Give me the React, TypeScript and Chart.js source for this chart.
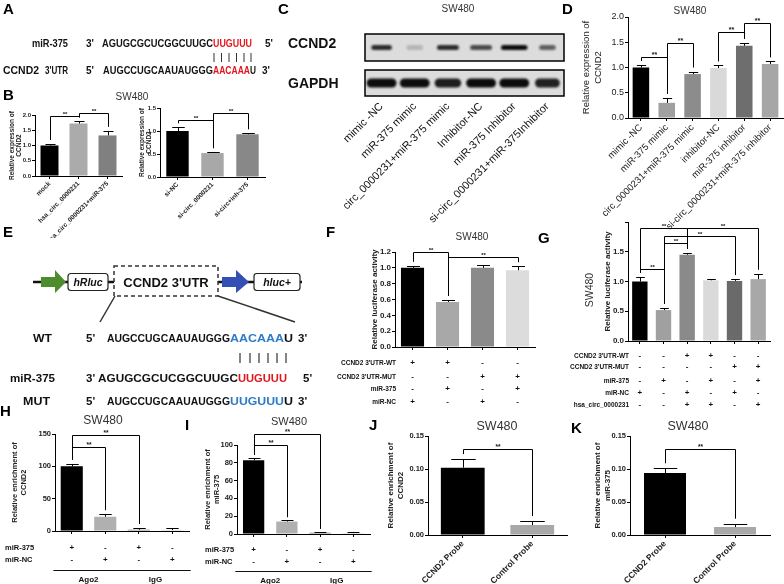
import React, { useEffect, useRef } from 'react';
import { Chart, registerables } from 'chart.js';

Chart.register(...registerables);
const FONT = '"Liberation Sans", Arial, Helvetica, sans-serif';
Chart.defaults.font.family = FONT;
Chart.defaults.color = '#222';

// ---------------- DATA ----------------
// B (left): over-expression
const bOverLabels = ['mock', 'hsa_circ_0000231', 'hsa_circ_0000231+miR-375'];
const bOverValues = [1.0, 1.72, 1.33];
const bOverErrors = [0.05, 0.07, 0.15];
const bOverBrackets = [[0, 1, 1.97], [1, 2, 2.07]];
// B (right): knock-down
const bSiLabels = ['si-NC', 'si-circ_0000231', 'si-circ+inh-375'];
const bSiValues = [1.0, 0.52, 0.93];
const bSiErrors = [0.08, 0.02, 0.02];
const bSiBrackets = [[0, 1, 1.24], [1, 2, 1.39]];
// C: western blot
const blotLanes = ['mimic -NC', 'miR-375 mimic', 'circ_0000231+miR-375 mimic', 'Inhibitor-NC', 'miR-375 Inhibitor', 'si-circ_0000231+miR-375Inhibitor'];
const ccnd2Band = [0.85, 0.18, 0.85, 0.7, 1.0, 0.6];
const ccnd2Width = [0.62, 0.5, 0.66, 0.66, 0.8, 0.5];
const gapdhBand = [1.0, 1.0, 0.92, 1.0, 1.0, 0.9];
const gapdhWidth = [0.9, 0.9, 0.8, 0.9, 0.9, 0.75];
// D
const dLabels = ['mimic -NC', 'miR-375 mimic', 'circ_0000231+miR-375 mimic', 'inhibitor-NC', 'miR-375 inhibitor', 'si-circ_0000231+miR-375 inhibitor'];
const dValues = [1.0, 0.30, 0.87, 0.99, 1.43, 1.07];
const dErrors = [0.05, 0.10, 0.05, 0.05, 0.06, 0.05];
const dBrackets = [[0, 1, 1.21], [1, 2, 1.49], [3, 4, 1.70], [4, 5, 1.88]];
// F
const fLabels = ['1', '2', '3', '4'];
const fValues = [1.0, 0.57, 1.0, 0.97];
const fErrors = [0.025, 0.025, 0.03, 0.05];
const fBrackets = [[0, 1, 1.2], [1, 3, 1.14]];
const fRowWT = ['+', '+', '-', '-'];
const fRowMUT = ['-', '-', '+', '+'];
const fRowMiR = ['-', '+', '-', '+'];
const fRowNC = ['+', '-', '+', '-'];
// G
const gLabels = ['1', '2', '3', '4', '5', '6'];
const gValues = [1.0, 0.52, 1.45, 1.02, 1.01, 1.04];
const gErrors = [0.08, 0.04, 0.03, 0.03, 0.03, 0.09];
const gBrackets = [[0, 1, 1.21], [1, 2, 1.64], [0, 2, 1.9], [2, 5, 1.9], [1, 4, 1.77]];
const gRowWT = ['-', '-', '+', '+', '-', '-'];
const gRowMUT = ['-', '-', '-', '-', '+', '+'];
const gRowMiR = ['-', '+', '-', '+', '-', '+'];
const gRowNC = ['+', '-', '+', '-', '+', '-'];
const gRowCirc = ['-', '-', '+', '+', '-', '+'];
// H
const hLabels = ['1', '2', '3', '4'];
const hValues = [100, 22, 2, 1.5];
const hErrors = [4, 4, 2.5, 2.5];
const hBrackets = [[0, 1, 130], [0, 2, 148]];
// I
const iValues = [83, 14, 1.5, 1.0];
const iErrors = [2.5, 1.5, 0.8, 1.5];
const iBrackets = [[0, 1, 100], [0, 2, 112]];
const rowMiR375 = ['+', '-', '+', '-'];
const rowMiRNC = ['-', '+', '-', '+'];
// J, K
const probeLabels = ['CCND2 Probe', 'Control Probe'];
const jValues = [0.102, 0.015];
const jErrors = [0.013, 0.006];
const kValues = [0.094, 0.012];
const kErrors = [0.007, 0.005];
const jkBrackets = [[0, 1, 0.13]];

// ---------------- TYPES ----------------
type Row = { label: string; signs: string[]; dy: number };
type Group = { from: number; to: number; label: string };
type Spec = {
  plot: number[]; yW: number; padT: number; padR: number; xH: number;
  labels: string[]; values: number[]; errors: number[]; colors: string[];
  yMax: number; yStep: number; yDec: number; hideAbove?: number;
  yTitle: string[]; titleSize: number; titleBold: boolean; titlePad: number;
  tickSize: number; tickBold: boolean;
  xLabels: boolean; xSize?: number; xBold?: boolean;
  barPct: number; brackets: number[][]; starSize: number; legGap: number;
  rows?: Row[]; rowSize?: number; signSize?: number; rowLabelX?: number; rowAlign?: 'left' | 'right';
  groups?: Group[]; groupDy?: number;
};

const specs: Spec[] = [
  { // B left
    plot: [35, 115, 122, 176], yW: 33, padT: 22, padR: 3, xH: 62,
    labels: bOverLabels, values: bOverValues, errors: bOverErrors, colors: ['#000', '#ababab', '#808080'],
    yMax: 2, yStep: 0.5, yDec: 1,
    yTitle: ['Relative expression of', 'CCND2'], titleSize: 6.5, titleBold: true, titlePad: 6,
    tickSize: 6, tickBold: true, xLabels: true, xSize: 6.5, xBold: true,
    barPct: 0.62, brackets: bOverBrackets, starSize: 6, legGap: 4,
  },
  { // B right
    plot: [160, 108, 265, 177], yW: 40, padT: 15, padR: 3, xH: 62,
    labels: bSiLabels, values: bSiValues, errors: bSiErrors, colors: ['#000', '#a8a8a8', '#888888'],
    yMax: 1.5, yStep: 0.5, yDec: 1,
    yTitle: ['Relative expression of', 'CCND2'], titleSize: 6.5, titleBold: true, titlePad: 18,
    tickSize: 6, tickBold: true, xLabels: true, xSize: 6.5, xBold: true,
    barPct: 0.64, brackets: bSiBrackets, starSize: 6, legGap: 4,
  },
  { // D
    plot: [628, 17, 783, 118], yW: 48, padT: 12, padR: 1, xH: 118,
    labels: dLabels, values: dValues, errors: dErrors,
    colors: ['#000', '#a0a0a0', '#8c8c8c', '#d9d9d9', '#6e6e6e', '#a6a6a6'],
    yMax: 2, yStep: 0.5, yDec: 1,
    yTitle: ['Relative expression of', 'CCND2'], titleSize: 9.5, titleBold: false, titlePad: 1,
    tickSize: 9, tickBold: false, xLabels: true, xSize: 9.5, xBold: false,
    barPct: 0.64, brackets: dBrackets, starSize: 7, legGap: 4,
  },
  { // F
    plot: [395, 252, 535, 347], yW: 60, padT: 14, padR: 3, xH: 62,
    labels: fLabels, values: fValues, errors: fErrors, colors: ['#000', '#a8a8a8', '#8a8a8a', '#dcdcdc'],
    yMax: 1.2, yStep: 0.2, yDec: 1,
    yTitle: ['Relative luciferase activity'], titleSize: 8, titleBold: true, titlePad: 35,
    tickSize: 8, tickBold: true, xLabels: false,
    barPct: 0.66, brackets: fBrackets, starSize: 6, legGap: 4,
    rows: [
      { label: "CCND2 3'UTR-WT", signs: fRowWT, dy: 16 },
      { label: "CCND2 3'UTR-MUT", signs: fRowMUT, dy: 30 },
      { label: 'miR-375', signs: fRowMiR, dy: 42 },
      { label: 'miR-NC', signs: fRowNC, dy: 55 },
    ], rowSize: 6.5, signSize: 8, rowLabelX: 396, rowAlign: 'right',
  },
  { // G
    plot: [628, 222, 770, 341], yW: 58, padT: 10, padR: 10, xH: 70,
    labels: gLabels, values: gValues, errors: gErrors,
    colors: ['#000', '#a0a0a0', '#8a8a8a', '#dadada', '#6a6a6a', '#a8a8a8'],
    yMax: 2, yStep: 0.5, yDec: 1, hideAbove: 1.5,
    yTitle: ['Relative luciferase activity'], titleSize: 8, titleBold: true, titlePad: 33,
    tickSize: 8, tickBold: true, xLabels: false,
    barPct: 0.65, brackets: gBrackets, starSize: 6, legGap: 4,
    rows: [
      { label: "CCND2 3'UTR-WT", signs: gRowWT, dy: 15 },
      { label: "CCND2 3'UTR-MUT", signs: gRowMUT, dy: 26 },
      { label: 'miR-375', signs: gRowMiR, dy: 40 },
      { label: 'miR-NC', signs: gRowNC, dy: 52 },
      { label: 'hsa_circ_0000231', signs: gRowCirc, dy: 64 },
    ], rowSize: 6.5, signSize: 8, rowLabelX: 629, rowAlign: 'right',
  },
  { // H
    plot: [55, 434, 189, 531], yW: 55, padT: 10, padR: 5, xH: 53,
    labels: hLabels, values: hValues, errors: hErrors, colors: ['#000', '#b0b0b0', '#888888', '#cccccc'],
    yMax: 150, yStep: 50, yDec: 0,
    yTitle: ['Relative enrichment of', 'CCND2'], titleSize: 7.5, titleBold: true, titlePad: 10,
    tickSize: 7.5, tickBold: true, xLabels: false,
    barPct: 0.66, brackets: hBrackets, starSize: 6.5, legGap: 4,
    rows: [
      { label: 'miR-375', signs: rowMiR375, dy: 17 },
      { label: 'miR-NC', signs: rowMiRNC, dy: 29 },
    ], rowSize: 7.5, signSize: 8, rowLabelX: 5, rowAlign: 'left',
    groups: [{ from: 0, to: 1, label: 'Ago2' }, { from: 2, to: 3, label: 'IgG' }], groupDy: 39,
  },
  { // I
    plot: [237, 445, 370, 534], yW: 37, padT: 18, padR: 5, xH: 50,
    labels: hLabels, values: iValues, errors: iErrors, colors: ['#000', '#b0b0b0', '#888888', '#cccccc'],
    yMax: 100, yStep: 20, yDec: 0,
    yTitle: ['Relative enrichment of', 'miR-375'], titleSize: 7.5, titleBold: true, titlePad: 3,
    tickSize: 7.5, tickBold: true, xLabels: false,
    barPct: 0.64, brackets: iBrackets, starSize: 6.5, legGap: 3,
    rows: [
      { label: 'miR-375', signs: rowMiR375, dy: 16 },
      { label: 'miR-NC', signs: rowMiRNC, dy: 28 },
    ], rowSize: 7.5, signSize: 8, rowLabelX: 205, rowAlign: 'left',
    groups: [{ from: 0, to: 1, label: 'Ago2' }, { from: 2, to: 3, label: 'IgG' }], groupDy: 37,
  },
  { // J
    plot: [428, 436, 567, 535], yW: 48, padT: 14, padR: 5, xH: 49,
    labels: probeLabels, values: jValues, errors: jErrors, colors: ['#000', '#a8a8a8'],
    yMax: 0.15, yStep: 0.05, yDec: 2,
    yTitle: ['Relative enrichment of', 'CCND2'], titleSize: 8, titleBold: true, titlePad: 6,
    tickSize: 7.5, tickBold: true, xLabels: true, xSize: 8.5, xBold: true,
    barPct: 0.63, brackets: jkBrackets, starSize: 6.5, legGap: 5,
  },
  { // K
    plot: [630, 436, 770, 535], yW: 52, padT: 14, padR: 7, xH: 49,
    labels: probeLabels, values: kValues, errors: kErrors, colors: ['#000', '#a8a8a8'],
    yMax: 0.15, yStep: 0.05, yDec: 2,
    yTitle: ['Relative enrichment of', 'miR-375'], titleSize: 8, titleBold: true, titlePad: 15,
    tickSize: 7.5, tickBold: true, xLabels: true, xSize: 8.5, xBold: true,
    barPct: 0.6, brackets: jkBrackets, starSize: 6.5, legGap: 5,
  },
];

function extrasPlugin(s: Spec, canvasLeft: number) {
  return {
    id: 'extras',
    afterDatasetsDraw(chart: any) {
      const ctx = chart.ctx;
      const meta = chart.getDatasetMeta(0);
      const ys = chart.scales.y;
      ctx.save();
      ctx.strokeStyle = '#000';
      ctx.lineWidth = 1;
      // error bars (upper)
      s.values.forEach((v, i) => {
        const bar = meta.data[i];
        const x = Math.round(bar.x) + 0.5;
        const y0 = ys.getPixelForValue(v);
        const y1 = Math.round(ys.getPixelForValue(v + s.errors[i])) + 0.5;
        const cw = bar.width * 0.28;
        ctx.beginPath();
        ctx.moveTo(x, y0);
        ctx.lineTo(x, y1);
        ctx.moveTo(x - cw, y1);
        ctx.lineTo(x + cw, y1);
        ctx.stroke();
      });
      // significance brackets
      ctx.fillStyle = '#111';
      ctx.font = `bold ${s.starSize}px ${FONT}`;
      ctx.textAlign = 'center';
      ctx.textBaseline = 'bottom';
      s.brackets.forEach(([i, j, lvl]) => {
        const x1 = Math.round(meta.data[i].x) + 0.5;
        const x2 = Math.round(meta.data[j].x) + 0.5;
        const yt = Math.round(ys.getPixelForValue(lvl)) + 0.5;
        const b1 = ys.getPixelForValue(s.values[i] + s.errors[i]) - s.legGap;
        const b2 = ys.getPixelForValue(s.values[j] + s.errors[j]) - s.legGap;
        ctx.beginPath();
        ctx.moveTo(x1, b1);
        ctx.lineTo(x1, yt);
        ctx.lineTo(x2, yt);
        ctx.lineTo(x2, b2);
        ctx.stroke();
        ctx.fillText('**', (x1 + x2) / 2, yt + 1);
      });
      ctx.restore();
    },
    afterDraw(chart: any) {
      const ctx = chart.ctx;
      const meta = chart.getDatasetMeta(0);
      const area = chart.chartArea;
      ctx.save();
      ctx.fillStyle = '#111';
      ctx.textBaseline = 'middle';
      (s.rows || []).forEach((r) => {
        const y = area.bottom + r.dy;
        ctx.font = `bold ${s.rowSize}px ${FONT}`;
        ctx.textAlign = s.rowAlign || 'right';
        ctx.fillText(r.label, (s.rowLabelX || 0) - canvasLeft, y);
        ctx.font = `bold ${s.signSize}px ${FONT}`;
        ctx.textAlign = 'center';
        r.signs.forEach((sg, i) => ctx.fillText(sg, meta.data[i].x, y));
      });
      if (s.groups) {
        const sp = area.width / s.values.length;
        s.groups.forEach((g) => {
          const y = Math.round(area.bottom + (s.groupDy || 0)) + 0.5;
          const xa = meta.data[g.from].x - sp * 0.55;
          const xb = meta.data[g.to].x + sp * 0.55;
          ctx.strokeStyle = '#111';
          ctx.lineWidth = 1.2;
          ctx.beginPath();
          ctx.moveTo(xa, y);
          ctx.lineTo(xb, y);
          ctx.stroke();
          ctx.font = `bold 8px ${FONT}`;
          ctx.textAlign = 'center';
          ctx.fillText(g.label, (xa + xb) / 2, y + 9);
        });
      }
      ctx.restore();
    },
  };
}

function BarPanel({ s }: { s: Spec }) {
  const ref = useRef<HTMLCanvasElement>(null);
  const cl = s.plot[0] - s.yW;
  const ct = s.plot[1] - s.padT;
  const w = s.plot[2] + s.padR - cl;
  const h = s.plot[3] + s.xH - ct;
  useEffect(() => {
    const chart = new Chart(ref.current as HTMLCanvasElement, {
      type: 'bar',
      data: {
        labels: s.labels,
        datasets: [{ data: s.values, backgroundColor: s.colors, borderWidth: 0, barPercentage: s.barPct, categoryPercentage: 1 }],
      },
      options: {
        responsive: false,
        animation: false,
        layout: { padding: { top: s.padT, right: s.padR, left: 0, bottom: 0 } },
        plugins: { legend: { display: false }, tooltip: { enabled: false } },
        scales: {
          x: {
            afterFit: (sc: any) => { sc.height = s.xH; },
            offset: true,
            border: { display: true, color: '#000', width: 1 },
            grid: { display: true, drawOnChartArea: false, offset: false, tickLength: 3, color: '#000' },
            ticks: {
              display: s.xLabels, autoSkip: false, minRotation: 45, maxRotation: 45, padding: 1,
              font: { size: s.xSize || 8, weight: s.xBold ? 'bold' : 'normal' }, color: '#222',
            },
          },
          y: {
            min: 0, max: s.yMax,
            afterFit: (sc: any) => { sc.width = s.yW; },
            border: { display: true, color: '#000', width: 1 },
            grid: { display: true, drawOnChartArea: false, tickLength: 3, color: '#000' },
            ticks: {
              stepSize: s.yStep, padding: 1, color: '#222',
              font: { size: s.tickSize, weight: s.tickBold ? 'bold' : 'normal' },
              callback: (v: any) => (s.hideAbove != null && Number(v) > s.hideAbove + 1e-9 ? '' : Number(v).toFixed(s.yDec)),
            },
            title: {
              display: true, text: s.yTitle, color: '#222',
              font: { size: s.titleSize, weight: s.titleBold ? 'bold' : 'normal' },
              padding: { top: s.titlePad, bottom: 0 },
            },
          },
        },
      } as any,
      plugins: [extrasPlugin(s, cl) as any],
    });
    return () => chart.destroy();
  }, []);
  return <canvas ref={ref} width={w} height={h} style={{ position: 'absolute', left: cl, top: ct, width: w, height: h }} />;
}

function Blot() {
  const ref = useRef<HTMLCanvasElement>(null);
  const L = 325, T = 28, W = 245, H = 210;
  useEffect(() => {
    const plugin = {
      id: 'blot',
      beforeDatasetsDraw(chart: any) {
        const { ctx, chartArea: a, scales } = chart;
        const xs = scales.x;
        const laneW = a.width / blotLanes.length;
        const boxes = [
          { top: a.top, h: 27, vals: ccnd2Band, widths: ccnd2Width, th: 5 },
          { top: a.bottom - 26, h: 26, vals: gapdhBand, widths: gapdhWidth, th: 9 },
        ];
        ctx.save();
        boxes.forEach((b) => {
          ctx.fillStyle = '#dcdcdc';
          ctx.fillRect(a.left, b.top, a.width, b.h);
          const cy = b.top + b.h / 2;
          ctx.filter = 'blur(1.2px)';
          b.vals.forEach((v: number, i: number) => {
            const cx = xs.getPixelForValue(i);
            const bw = laneW * b.widths[i];
            ctx.fillStyle = `rgba(12,12,12,${v})`;
            ctx.beginPath();
            ctx.roundRect(cx - bw / 2, cy - b.th / 2, bw, b.th, b.th / 2);
            ctx.fill();
          });
          ctx.filter = 'none';
          ctx.strokeStyle = '#000';
          ctx.lineWidth = 1.5;
          ctx.strokeRect(a.left, b.top, a.width, b.h);
        });
        ctx.restore();
      },
    };
    const chart = new Chart(ref.current as HTMLCanvasElement, {
      type: 'bar',
      data: { labels: blotLanes, datasets: [{ data: ccnd2Band, backgroundColor: 'rgba(0,0,0,0)' }] },
      options: {
        responsive: false,
        animation: false,
        layout: { padding: { left: 40, top: 6, right: 6, bottom: 0 } },
        plugins: { legend: { display: false }, tooltip: { enabled: false } },
        scales: {
          x: {
            afterFit: (sc: any) => { sc.height = 142; },
            border: { display: false },
            grid: { display: false, drawTicks: false },
            ticks: { autoSkip: false, minRotation: 45, maxRotation: 45, padding: 4, font: { size: 11 }, color: '#111' },
          },
          y: { display: false, min: 0, max: 1 },
        },
      } as any,
      plugins: [plugin as any],
    });
    return () => chart.destroy();
  }, []);
  return <canvas ref={ref} width={W} height={H} style={{ position: 'absolute', left: L, top: T, width: W, height: H }} />;
}

const RED = '#e3161d';
const BLUE = '#2e7cc6';

function Seq({ x, y, len, text, fill }: { x: number; y: number; len?: number; text: string; fill?: string }) {
  return (
    <text x={x} y={y} fill={fill || '#111'} textLength={len} lengthAdjust={len ? 'spacingAndGlyphs' : undefined}>{text}</text>
  );
}

function Overlay() {
  const pipesA = [214, 221.5, 229, 236.5, 244, 251];
  const pipesE = [240, 250, 259, 268, 277, 286];
  return (
    <svg width={784} height={584} style={{ position: 'absolute', left: 0, top: 0, pointerEvents: 'none' }} fontFamily={FONT}>
      {/* panel letters */}
      <g fontWeight="bold" fontSize={15} fill="#000">
        <text x={3} y={14}>A</text>
        <text x={3} y={100}>B</text>
        <text x={278} y={14}>C</text>
        <text x={562} y={14}>D</text>
        <text x={3} y={237}>E</text>
        <text x={326} y={237}>F</text>
        <text x={538} y={243}>G</text>
        <text x={0} y={416}>H</text>
        <text x={185} y={430}>I</text>
        <text x={369} y={430}>J</text>
        <text x={571} y={433}>K</text>
      </g>
      {/* titles */}
      <g fill="#333" textAnchor="middle">
        <text x={132} y={100} fontSize={10}>SW480</text>
        <text x={458} y={12} fontSize={10}>SW480</text>
        <text x={690} y={14} fontSize={10}>SW480</text>
        <text x={472} y={240} fontSize={10}>SW480</text>
        <text transform="translate(593,290) rotate(-90)" fontSize={10.5}>SW480</text>
        <text x={103} y={424} fontSize={12}>SW480</text>
        <text x={289} y={425} fontSize={11}>SW480</text>
        <text x={497} y={430} fontSize={12.5}>SW480</text>
        <text x={688} y={430} fontSize={12.5}>SW480</text>
      </g>
      {/* A */}
      <g fontWeight="bold" fontSize={10}>
        <Seq x={32} y={47} len={36} text="miR-375" />
        <Seq x={86} y={47} text="3'" />
        <Seq x={102} y={47} len={111} text="AGUGCGCUCGGCUUGC" />
        <Seq x={213} y={47} len={39} text="UUGUUU" fill={RED} />
        <Seq x={265} y={47} text="5'" />
        <Seq x={3} y={74} len={36} text="CCND2" />
        <Seq x={45} y={74} len={23} text="3'UTR" />
        <Seq x={86} y={74} text="5'" />
        <Seq x={103} y={74} len={110} text="AUGCCUGCAAUAUGGG" />
        <Seq x={213} y={74} len={37} text="AACAAA" fill={RED} />
        <Seq x={250} y={74} len={6} text="U" />
        <Seq x={262} y={74} text="3'" />
      </g>
      {pipesA.map((px, i) => (
        <line key={'pa' + i} x1={px} x2={px} y1={53} y2={62} stroke="#333" strokeWidth={1} />
      ))}
      {/* E construct */}
      <line x1={33} y1={282} x2={302} y2={282} stroke="#111" strokeWidth={2.5} />
      <polygon points="41,277 55,277 55,270 66,282 55,293 55,287 41,287" fill="#4c8c2c" />
      <rect x={68} y={273.5} width={40} height={17} rx={3} fill="#fff" stroke="#222" strokeWidth={1.2} />
      <text x={88} y={286} textAnchor="middle" fontStyle="italic" fontWeight="bold" fontSize={10.5} fill="#111">hRluc</text>
      <rect x={114} y={266} width={104} height={30} fill="#fff" stroke="#333" strokeWidth={1.5} strokeDasharray="4 3" />
      <text x={166} y={287} textAnchor="middle" fontWeight="bold" fontSize={13} fill="#111">CCND2 3'UTR</text>
      <polygon points="222,277 236,277 236,270 249,282 236,293 236,287 222,287" fill="#3550b5" />
      <rect x={254} y={273.5} width={46} height={17} rx={3} fill="#fff" stroke="#222" strokeWidth={1.2} />
      <text x={277} y={286} textAnchor="middle" fontStyle="italic" fontWeight="bold" fontSize={10.5} fill="#111">hluc+</text>
      <line x1={115} y1={296} x2={100} y2={322} stroke="#333" strokeWidth={1.5} />
      <line x1={218} y1={296} x2={295} y2={322} stroke="#333" strokeWidth={1.5} />
      <g fontWeight="bold" fontSize={11.5}>
        <Seq x={33} y={342} len={19} text="WT" />
        <Seq x={86} y={342} text="5'" />
        <Seq x={107} y={342} len={123} text="AUGCCUGCAAUAUGGG" />
        <Seq x={230} y={342} len={54} text="AACAAA" fill={BLUE} />
        <Seq x={284} y={342} len={9} text="U" />
        <Seq x={298} y={342} text="3'" />
        <Seq x={10} y={382} len={45} text="miR-375" />
        <Seq x={86} y={382} text="3'" />
        <Seq x={98} y={382} len={140} text="AGUGCGCUCGGCUUGC" />
        <Seq x={238} y={382} len={49} text="UUGUUU" fill={RED} />
        <Seq x={303} y={382} text="5'" />
        <Seq x={23} y={405} len={27} text="MUT" />
        <Seq x={86} y={405} text="5'" />
        <Seq x={107} y={405} len={123} text="AUGCCUGCAAUAUGGG" />
        <Seq x={230} y={405} len={54} text="UUGUUU" fill={BLUE} />
        <Seq x={284} y={405} len={9} text="U" />
        <Seq x={298} y={405} text="3'" />
      </g>
      {pipesE.map((px, i) => (
        <line key={'pe' + i} x1={px} x2={px} y1={353} y2={363} stroke="#333" strokeWidth={1.2} />
      ))}
      {/* C row labels */}
      <g fontWeight="bold" fontSize={14} fill="#111">
        <text x={288} y={48}>CCND2</text>
        <text x={288} y={88}>GAPDH</text>
      </g>
    </svg>
  );
}

export default function App() {
  return (
    <div style={{ position: 'fixed', left: 0, top: 0, width: 784, height: 584, background: '#fff', overflow: 'hidden' }}>
      {specs.map((s, i) => <BarPanel key={i} s={s} />)}
      <Blot />
      <Overlay />
    </div>
  );
}
